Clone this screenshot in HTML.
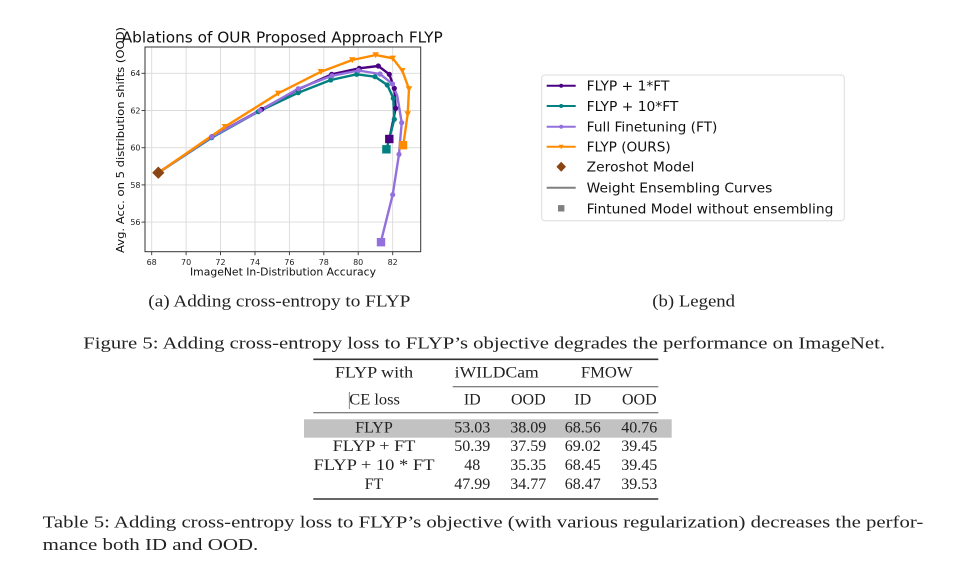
<!DOCTYPE html>
<html>
<head>
<meta charset="utf-8">
<style>
html,body{margin:0;padding:0;background:#fff;}
body{width:972px;height:569px;overflow:hidden;}
svg{display:block;}
.sans{font-family:"DejaVu Sans","Liberation Sans",sans-serif;}
.serif{font-family:"Liberation Serif","DejaVu Serif",serif;fill:#222;}
</style>
</head>
<body>
<svg width="972" height="569" viewBox="0 0 972 569" xmlns="http://www.w3.org/2000/svg">
<rect x="0" y="0" width="972" height="569" fill="#fff"/>

<!-- ===== Chart ===== -->
<text class="sans" x="121.7" y="42.7" font-size="15.5" fill="#111" textLength="321" lengthAdjust="spacingAndGlyphs">Ablations of OUR Proposed Approach FLYP</text>

<!-- grid -->
<g stroke="#dadada" stroke-width="0.9">
  <line x1="151.7" y1="47" x2="151.7" y2="251.7"/>
  <line x1="186.1" y1="47" x2="186.1" y2="251.7"/>
  <line x1="220.5" y1="47" x2="220.5" y2="251.7"/>
  <line x1="255" y1="47" x2="255" y2="251.7"/>
  <line x1="289.4" y1="47" x2="289.4" y2="251.7"/>
  <line x1="323.8" y1="47" x2="323.8" y2="251.7"/>
  <line x1="358.2" y1="47" x2="358.2" y2="251.7"/>
  <line x1="392.7" y1="47" x2="392.7" y2="251.7"/>
  <line x1="145" y1="73.3" x2="420.7" y2="73.3"/>
  <line x1="145" y1="110.5" x2="420.7" y2="110.5"/>
  <line x1="145" y1="147.7" x2="420.7" y2="147.7"/>
  <line x1="145" y1="184.9" x2="420.7" y2="184.9"/>
  <line x1="145" y1="222.1" x2="420.7" y2="222.1"/>
</g>

<!-- ticks -->
<g stroke="#333" stroke-width="0.9">
  <line x1="151.7" y1="251.7" x2="151.7" y2="255.2"/>
  <line x1="186.1" y1="251.7" x2="186.1" y2="255.2"/>
  <line x1="220.5" y1="251.7" x2="220.5" y2="255.2"/>
  <line x1="255" y1="251.7" x2="255" y2="255.2"/>
  <line x1="289.4" y1="251.7" x2="289.4" y2="255.2"/>
  <line x1="323.8" y1="251.7" x2="323.8" y2="255.2"/>
  <line x1="358.2" y1="251.7" x2="358.2" y2="255.2"/>
  <line x1="392.7" y1="251.7" x2="392.7" y2="255.2"/>
  <line x1="141.5" y1="73.3" x2="145" y2="73.3"/>
  <line x1="141.5" y1="110.5" x2="145" y2="110.5"/>
  <line x1="141.5" y1="147.7" x2="145" y2="147.7"/>
  <line x1="141.5" y1="184.9" x2="145" y2="184.9"/>
  <line x1="141.5" y1="222.1" x2="145" y2="222.1"/>
</g>

<g class="sans" font-size="8" fill="#222" text-anchor="middle">
  <text x="151.7" y="264.8">68</text>
  <text x="186.1" y="264.8">70</text>
  <text x="220.5" y="264.8">72</text>
  <text x="255" y="264.8">74</text>
  <text x="289.4" y="264.8">76</text>
  <text x="323.8" y="264.8">78</text>
  <text x="358.2" y="264.8">80</text>
  <text x="392.7" y="264.8">82</text>
</g>
<g class="sans" font-size="8" fill="#222" text-anchor="end">
  <text x="140.5" y="76.2">64</text>
  <text x="140.5" y="113.4">62</text>
  <text x="140.5" y="150.6">60</text>
  <text x="140.5" y="187.8">58</text>
  <text x="140.5" y="225">56</text>
</g>

<text class="sans" x="190" y="275.5" font-size="11" fill="#111" textLength="186" lengthAdjust="spacingAndGlyphs">ImageNet In-Distribution Accuracy</text>
<text class="sans" transform="translate(123.8,253) rotate(-90)" x="0" y="0" font-size="10.8" fill="#111" textLength="226" lengthAdjust="spacingAndGlyphs">Avg. Acc. on 5 distribution shifts (OOD)</text>

<!-- series -->
<g fill="none" stroke-width="2.4" stroke-linejoin="round" stroke-linecap="round">
  <polyline stroke="#4B0082" points="158.3,172.7 211.7,136.7 261.7,109.3 298.3,89.3 331.7,74.3 359.3,68.3 378.3,66 389.3,74.3 394.3,88.3 395.7,108.3 389.3,139"/>
  <polyline stroke="#008080" points="158.3,172.7 211.7,137.7 258.3,111.7 298.3,92.7 330.7,80 356.7,74.3 375,76.7 387.3,85 393.3,98.3 394.3,119.3 386.5,149.3"/>
  <polyline stroke="#9370DB" points="158.3,172.7 211.7,137 260,110.5 298.3,88.7 332,75.8 358.5,70.5 380,74 392.5,84 397.3,96 401.7,122.7 399,154.3 392.7,194.7 381,241.3"/>
  <polyline stroke="#FF8C00" points="158.3,172.7 225,126.7 278.3,93.3 321,71.7 352.3,60 375.7,55 392.7,58.3 402.3,70.7 409,89 407.7,114 403.3,145"/>
</g>

<!-- markers -->
<g fill="#4B0082">
  <circle cx="211.7" cy="136.7" r="2.6"/><circle cx="261.7" cy="109.3" r="2.6"/><circle cx="298.3" cy="89.3" r="2.6"/>
  <circle cx="331.7" cy="74.3" r="2.6"/><circle cx="359.3" cy="68.3" r="2.6"/><circle cx="378.3" cy="66" r="2.6"/>
  <circle cx="389.3" cy="74.3" r="2.6"/><circle cx="394.3" cy="88.3" r="2.6"/><circle cx="395.7" cy="108.3" r="2.6"/>
</g>
<g fill="#008080">
  <circle cx="211.7" cy="137.7" r="2.6"/><circle cx="258.3" cy="111.7" r="2.6"/><circle cx="298.3" cy="92.7" r="2.6"/>
  <circle cx="330.7" cy="80" r="2.6"/><circle cx="356.7" cy="74.3" r="2.6"/><circle cx="375" cy="76.7" r="2.6"/>
  <circle cx="387.3" cy="85" r="2.6"/><circle cx="393.3" cy="98.3" r="2.6"/><circle cx="394.3" cy="119.3" r="2.6"/>
</g>
<g fill="#9370DB">
  <circle cx="211.7" cy="137" r="2.6"/><circle cx="260" cy="110.5" r="2.6"/><circle cx="298.3" cy="88.7" r="2.6"/>
  <circle cx="332" cy="75.8" r="2.6"/><circle cx="358.5" cy="70.5" r="2.6"/><circle cx="380" cy="74" r="2.6"/>
  <circle cx="392.5" cy="84" r="2.6"/><circle cx="401.7" cy="122.7" r="2.6"/>
  <circle cx="399" cy="154.3" r="2.6"/><circle cx="392.7" cy="194.7" r="2.6"/>
</g>
<g fill="#FF8C00">
  <polygon points="221.7,124 228.3,124 225,130"/>
  <polygon points="275,90.6 281.6,90.6 278.3,96.6"/>
  <polygon points="317.7,69 324.3,69 321,75"/>
  <polygon points="349,57.3 355.6,57.3 352.3,63.3"/>
  <polygon points="372.4,52.3 379,52.3 375.7,58.3"/>
  <polygon points="389.4,55.6 396,55.6 392.7,61.6"/>
  <polygon points="399,68 405.6,68 402.3,74"/>
  <polygon points="405.7,86.3 412.3,86.3 409,92.3"/>
  <polygon points="404.4,111.3 411,111.3 407.7,117.3"/>
</g>

<!-- finetuned squares -->
<rect x="385.1" y="134.8" width="8.4" height="8.4" fill="#4B0082"/>
<rect x="382.2" y="145.1" width="8.4" height="8.4" fill="#008080"/>
<rect x="398.8" y="141" width="8.4" height="8.4" fill="#FF8C00"/>
<rect x="376.8" y="238" width="8.4" height="8.4" fill="#9370DB"/>

<!-- zeroshot diamond -->
<polygon points="158.3,166.5 164.4,172.7 158.3,178.9 152.2,172.7" fill="#8B4513"/>

<!-- spines -->
<rect x="145" y="47" width="275.7" height="204.7" fill="none" stroke="#333" stroke-width="1"/>

<!-- ===== Legend ===== -->
<rect x="541.7" y="75" width="302.6" height="145.7" rx="3" ry="3" fill="#fff" stroke="#dcdcdc" stroke-width="1"/>
<g stroke-width="2">
  <line x1="546.7" y1="85.7" x2="575.7" y2="85.7" stroke="#4B0082"/>
  <line x1="546.7" y1="106" x2="575.7" y2="106" stroke="#008080"/>
  <line x1="546.7" y1="126.7" x2="575.7" y2="126.7" stroke="#9370DB"/>
  <line x1="546.7" y1="146.7" x2="575.7" y2="146.7" stroke="#FF8C00"/>
  <line x1="546.7" y1="187.7" x2="575.7" y2="187.7" stroke="#808080"/>
</g>
<circle cx="561.2" cy="85.7" r="2" fill="#4B0082"/>
<circle cx="561.2" cy="106" r="2" fill="#008080"/>
<circle cx="561.2" cy="126.7" r="2" fill="#9370DB"/>
<polygon points="558.7,144.7 563.7,144.7 561.2,149.2" fill="#FF8C00"/>
<polygon points="561.2,161.7 566,166.7 561.2,171.7 556.4,166.7" fill="#8B4513"/>
<rect x="558" y="205.1" width="6.4" height="6.4" fill="#808080"/>

<g class="sans" font-size="13.5" fill="#111">
  <text x="586.7" y="90.7" textLength="82.7" lengthAdjust="spacingAndGlyphs">FLYP + 1*FT</text>
  <text x="586.7" y="111" textLength="91.7" lengthAdjust="spacingAndGlyphs">FLYP + 10*FT</text>
  <text x="586.7" y="131.7" textLength="130.7" lengthAdjust="spacingAndGlyphs">Full Finetuning (FT)</text>
  <text x="586.7" y="151.7" textLength="84" lengthAdjust="spacingAndGlyphs">FLYP (OURS)</text>
  <text x="586.7" y="171.7" textLength="107.7" lengthAdjust="spacingAndGlyphs">Zeroshot Model</text>
  <text x="586.7" y="192.7" textLength="185.7" lengthAdjust="spacingAndGlyphs">Weight Ensembling Curves</text>
  <text x="586.7" y="213.3" textLength="246.7" lengthAdjust="spacingAndGlyphs">Fintuned Model without ensembling</text>
</g>

<!-- ===== Captions ===== -->
<g class="serif" font-size="16.5">
  <text x="148.3" y="306.7" textLength="262" lengthAdjust="spacingAndGlyphs">(a) Adding cross-entropy to FLYP</text>
  <text x="652.3" y="306.7" textLength="82.7" lengthAdjust="spacingAndGlyphs">(b) Legend</text>
  <text x="83.3" y="348.3" textLength="801.7" lengthAdjust="spacingAndGlyphs">Figure 5: Adding cross-entropy loss to FLYP’s objective degrades the performance on ImageNet.</text>
</g>

<!-- ===== Table ===== -->
<rect x="304" y="419.3" width="367.7" height="18.4" fill="#c2c2c2"/>
<line x1="313.3" y1="359.3" x2="658.3" y2="359.3" stroke="#333" stroke-width="1.6"/>
<line x1="452.7" y1="386.7" x2="658.3" y2="386.7" stroke="#555" stroke-width="1"/>
<line x1="313.3" y1="412.7" x2="658.3" y2="412.7" stroke="#555" stroke-width="1"/>
<line x1="313.3" y1="499" x2="658.3" y2="499" stroke="#333" stroke-width="1.6"/>
<line x1="349.3" y1="392" x2="349.3" y2="409" stroke="#666" stroke-width="0.8"/>

<g class="serif" font-size="16" text-anchor="middle">
  <text x="374" y="377.7" textLength="78.3" lengthAdjust="spacingAndGlyphs">FLYP with</text>
  <text x="496.7" y="377.7" textLength="84" lengthAdjust="spacingAndGlyphs">iWILDCam</text>
  <text x="606.7" y="377.7" textLength="51.7" lengthAdjust="spacingAndGlyphs">FMOW</text>

  <text x="374.6" y="404.3" textLength="50.7" lengthAdjust="spacingAndGlyphs">CE loss</text>
  <text x="472.3" y="404.3">ID</text>
  <text x="528.3" y="404.3">OOD</text>
  <text x="582.7" y="404.3">ID</text>
  <text x="639.3" y="404.3">OOD</text>

  <text x="374" y="432.3">FLYP</text>
  <text x="472.3" y="432.3">53.03</text>
  <text x="528.3" y="432.3">38.09</text>
  <text x="582.7" y="432.3">68.56</text>
  <text x="639.3" y="432.3">40.76</text>

  <text x="374" y="451" textLength="82.7" lengthAdjust="spacingAndGlyphs">FLYP + FT</text>
  <text x="472.3" y="451">50.39</text>
  <text x="528.3" y="451">37.59</text>
  <text x="582.7" y="451">69.02</text>
  <text x="639.3" y="451">39.45</text>

  <text x="374" y="470" textLength="121" lengthAdjust="spacingAndGlyphs">FLYP + 10 * FT</text>
  <text x="472.3" y="470">48</text>
  <text x="528.3" y="470">35.35</text>
  <text x="582.7" y="470">68.45</text>
  <text x="639.3" y="470">39.45</text>

  <text x="374" y="489">FT</text>
  <text x="472.3" y="489">47.99</text>
  <text x="528.3" y="489">34.77</text>
  <text x="582.7" y="489">68.47</text>
  <text x="639.3" y="489">39.53</text>
</g>

<g class="serif" font-size="16.5">
  <text x="42.7" y="527.7" textLength="880.6" lengthAdjust="spacingAndGlyphs">Table 5: Adding cross-entropy loss to FLYP’s objective (with various regularization) decreases the perfor-</text>
  <text x="42.7" y="550" textLength="215.6" lengthAdjust="spacingAndGlyphs">mance both ID and OOD.</text>
</g>
</svg>
</body>
</html>
